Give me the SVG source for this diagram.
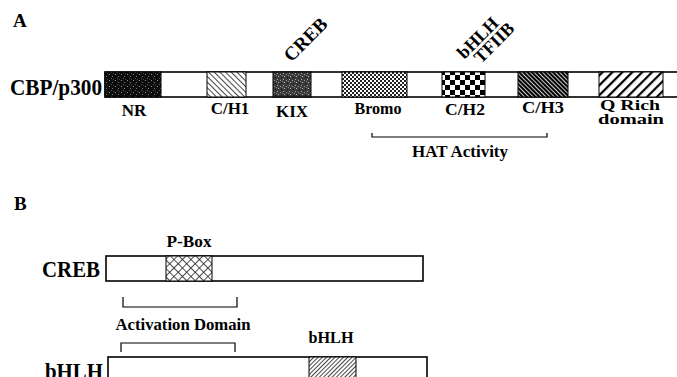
<svg xmlns="http://www.w3.org/2000/svg" width="677" height="377" viewBox="0 0 677 377">
<style>
text{font-family:"Liberation Serif","Times New Roman",serif;font-weight:bold;fill:#000}
.lbl{font-size:17px;text-anchor:middle}
.big{font-size:24px}
.bar{fill:#fff;stroke:#000;stroke-width:1.6}
.blk{stroke:#000;stroke-width:1}
.br{fill:none;stroke:#000;stroke-width:1.2}
</style>
<defs>
<pattern id="pNR" width="6" height="6" patternUnits="userSpaceOnUse">
<rect width="6" height="6" fill="#0d0d0d"/>
<rect x="1" y="2" width="1" height="1" fill="#8a8a8a"/>
<rect x="4" y="4" width="1" height="1" fill="#777"/>
<rect x="3" y="0" width="1" height="1" fill="#5a5a5a"/>
<rect x="5" y="1" width="1" height="1" fill="#444"/>
</pattern>
<pattern id="pKIX" width="6" height="6" patternUnits="userSpaceOnUse">
<rect width="6" height="6" fill="#3a3a3a"/>
<rect x="1" y="1" width="1" height="1" fill="#aaa"/>
<rect x="4" y="2" width="1" height="1" fill="#999"/>
<rect x="2" y="4" width="1" height="1" fill="#bbb"/>
<rect x="5" y="5" width="1" height="1" fill="#111"/>
<rect x="0" y="3" width="1" height="1" fill="#888"/>
</pattern>
<pattern id="pBromo" width="4" height="4" patternUnits="userSpaceOnUse">
<rect width="4" height="4" fill="#fff"/>
<rect width="2" height="2" fill="#222"/>
<rect x="2" y="2" width="2" height="2" fill="#222"/>
</pattern>
<pattern id="pCH2" width="10" height="10" patternUnits="userSpaceOnUse">
<rect width="10" height="10" fill="#fff"/>
<rect width="5" height="5" fill="#000"/>
<rect x="5" y="5" width="5" height="5" fill="#000"/>
</pattern>
<pattern id="pCH1" width="4" height="4" patternUnits="userSpaceOnUse" patternTransform="rotate(-45)">
<rect width="4" height="4" fill="#fff"/>
<rect width="0.9" height="4" fill="#333"/>
</pattern>
<pattern id="pCH3" width="3" height="3" patternUnits="userSpaceOnUse" patternTransform="rotate(-45)">
<rect width="3" height="3" fill="#fff"/>
<rect width="2.2" height="3" fill="#000"/>
</pattern>
<pattern id="pQ" width="7" height="7" patternUnits="userSpaceOnUse" patternTransform="rotate(45)">
<rect width="7" height="7" fill="#fff"/>
<rect width="2.2" height="7" fill="#000"/>
</pattern>
<pattern id="pPBox" width="6" height="6" patternUnits="userSpaceOnUse" patternTransform="rotate(45)">
<rect width="6" height="6" fill="#fff"/>
<rect width="0.8" height="6" fill="#222"/>
<rect width="6" height="0.8" fill="#222"/>
</pattern>
<pattern id="pBHLH" width="3" height="3" patternUnits="userSpaceOnUse" patternTransform="rotate(45)">
<rect width="3" height="3" fill="#fff"/>
<rect width="0.9" height="3" fill="#333"/>
</pattern>
</defs>

<text x="13" y="27" style="font-size:19px">A</text>
<text x="14" y="210" style="font-size:19px">B</text>

<g id="cbp">
<text x="10" y="95" class="big" textLength="92" lengthAdjust="spacingAndGlyphs">CBP/p300</text>
<rect class="bar" x="105" y="72" width="580" height="25"/>
</g>
<g id="nr"><rect class="blk" x="105" y="72" width="56" height="25" fill="url(#pNR)"/><text class="lbl" x="134" y="116">NR</text></g>
<g id="ch1"><rect class="blk" x="207" y="72" width="39" height="25" fill="url(#pCH1)"/><text class="lbl" x="230" y="114">C/H1</text></g>
<g id="kix"><rect class="blk" x="273" y="72" width="38" height="25" fill="url(#pKIX)"/><text class="lbl" x="292" y="117">KIX</text></g>
<g id="bromo"><rect class="blk" x="342" y="72" width="65" height="25" fill="url(#pBromo)"/><text class="lbl" x="378" y="114" textLength="47" lengthAdjust="spacingAndGlyphs">Bromo</text></g>
<g id="ch2"><rect class="blk" x="442" y="72" width="43" height="25" fill="url(#pCH2)"/><text class="lbl" x="465" y="115" textLength="40" lengthAdjust="spacingAndGlyphs">C/H2</text></g>
<g id="ch3"><rect class="blk" x="518" y="72" width="50" height="25" fill="url(#pCH3)"/><text class="lbl" x="543" y="113" textLength="42" lengthAdjust="spacingAndGlyphs">C/H3</text></g>
<g id="qrich"><rect class="blk" x="599" y="72" width="64" height="25" fill="url(#pQ)"/>
<text class="lbl" x="630" y="110" style="font-size:15px" textLength="60" lengthAdjust="spacingAndGlyphs">Q Rich</text>
<text class="lbl" x="631" y="124" style="font-size:14px" textLength="66" lengthAdjust="spacingAndGlyphs">domain</text></g>

<g id="creb-label"><text transform="translate(310,44) rotate(-45)" text-anchor="middle" style="font-size:19px">CREB</text></g>
<g id="bhlh-tfiib-label">
<text transform="translate(482,42) rotate(-45)" text-anchor="middle" style="font-size:18px">bHLH</text>
<text transform="translate(482,42) rotate(-45) translate(8,15)" text-anchor="middle" style="font-size:18px">TFIIB</text>
</g>

<g id="hat"><text class="lbl" x="460" y="157" textLength="96" lengthAdjust="spacingAndGlyphs">HAT Activity</text></g>

<g id="creb">
<text x="42" y="277" class="big" textLength="58" lengthAdjust="spacingAndGlyphs">CREB</text>
<rect class="bar" x="106" y="256" width="317" height="25"/>
<rect class="blk" x="166" y="256" width="46" height="25" fill="url(#pPBox)"/>
<text class="lbl" x="189" y="247" textLength="45" lengthAdjust="spacingAndGlyphs">P-Box</text>
</g>
<g id="activation"><text class="lbl" x="183" y="330" textLength="135" lengthAdjust="spacingAndGlyphs">Activation Domain</text></g>
<g id="bhlh">
<text x="45" y="379" class="big" textLength="58" lengthAdjust="spacingAndGlyphs">bHLH</text>
<rect class="bar" x="108" y="357" width="319" height="40"/>
<rect class="blk" x="309" y="357" width="47" height="40" fill="url(#pBHLH)"/>
<text class="lbl" x="331" y="343" textLength="45" lengthAdjust="spacingAndGlyphs">bHLH</text>
</g>

<g id="connectors">
<path class="br" d="M372 133V137H547V133"/>
<path class="br" d="M123 297V307H237V297"/>
<path class="br" d="M121 352V343H235V352"/>
</g>
</svg>
